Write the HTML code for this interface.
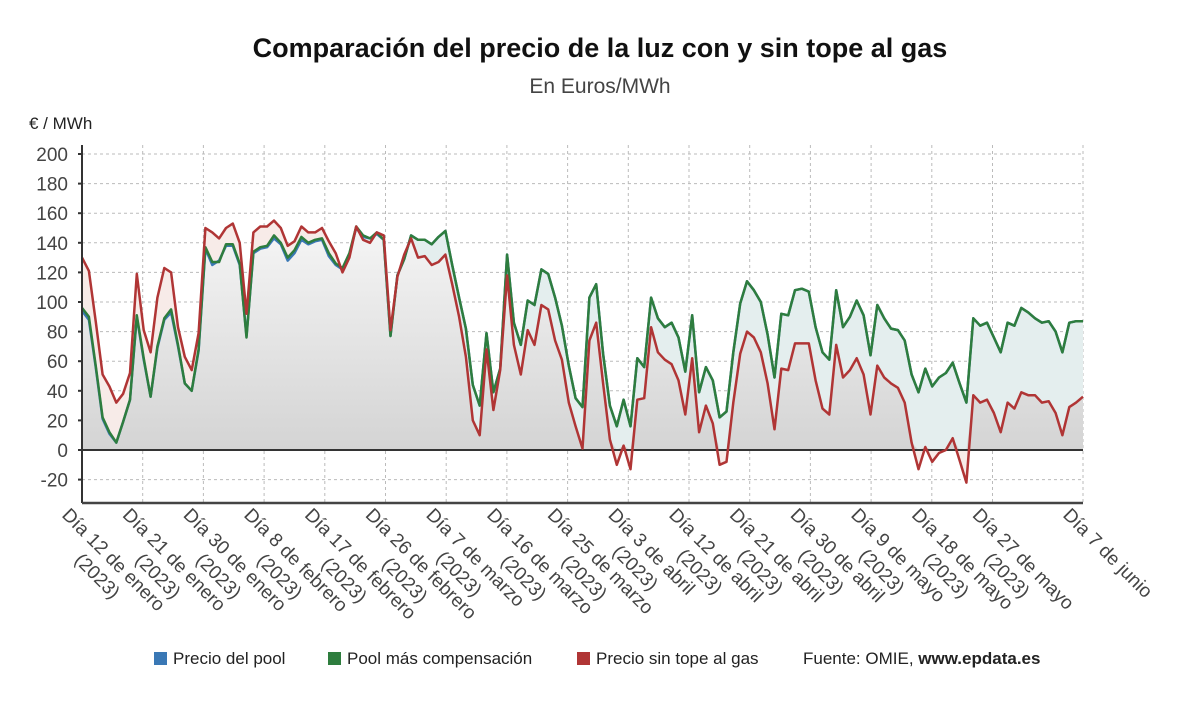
<!DOCTYPE html>
<html><head><meta charset="utf-8"><style>
body{margin:0;background:#fff;}
svg{display:block;font-family:"Liberation Sans","DejaVu Sans",sans-serif;}
</style></head><body>
<svg id="chart" width="1200" height="705" viewBox="0 0 1200 705">
<defs>
<linearGradient id="greyg" x1="0" y1="0" x2="0" y2="1"><stop offset="0" stop-color="#f5f5f5"/><stop offset="1" stop-color="#d4d4d4"/></linearGradient>
</defs>
<text x="600" y="57" text-anchor="middle" font-size="27" font-weight="bold" fill="#111">Comparación del precio de la luz con y sin tope al gas</text>
<text x="600" y="93" text-anchor="middle" font-size="21" fill="#444">En Euros/MWh</text>
<text x="29" y="129" font-size="17" fill="#222">€ / MWh</text>
<g id="grid"></g>
<g id="areas"></g>
<g id="lines"></g>
<g id="axes"></g>
<g id="xlabels"></g>
<g id="legend" font-size="17" fill="#222">
<rect x="154" y="652" width="13" height="13" fill="#3a78b5"/>
<text x="173" y="664">Precio del pool</text>
<rect x="328" y="652" width="13" height="13" fill="#2e7d3e"/>
<text x="347" y="664">Pool más compensación</text>
<rect x="577" y="652" width="13" height="13" fill="#b03535"/>
<text x="596" y="664">Precio sin tope al gas</text>
<text x="803" y="664">Fuente: OMIE, <tspan font-weight="bold">www.epdata.es</tspan></text>
</g>
</svg>
<script>
const green = [96,90,57,22,12,5,19,34,91,62,36,70,89,95,71,45,40,68,137,127,127,139,139,126,76,134,137,138,145,140,130,135,144,140,142,143,133,126,123,133,151,145,143,147,142,77,118,129,145,142,142,139,144,148,125,103,82,44,30,79,39,55,132,86,71,101,98,122,119,103,84,57,35,29,
103,112,65,30,16,34,16,62,56,103,89,83,86,76,53,91,39,56,47,22,26,66,99,114,108,100,78,49,92,91,108,109,107,83,66,61,108,83,90,101,91,64,98,89,82,81,74,51,39,55,43,49,52,59,45,32,89,84,86,76,66,86,84,96,93,89,86,87,80,66,86,87,87];
const blue = [94,88,56,21,11,5,19,34,90,61,36,69,88,93,70,45,40,67,136,125,128,138,138,125,77,133,136,137,143,139,128,133,142,139,141,142,131,125,122,132,150,144,143,146,142,77,118,129,145,142,142,139,144,148,125,103,82,44,30,79,39,55,132,86,71,101,98,122,119,103,84,57,35,29,
103,112,65,30,16,34,16,62,56,103,89,83,86,76,53,91,39,56,47,22,26,66,99,114,108,100,78,49,92,91,108,109,107,83,66,61,108,83,90,101,91,64,98,89,82,81,74,51,39,55,43,49,52,59,45,32,89,84,86,76,66,86,84,96,93,89,86,87,80,66,86,87,87];
const red = [130,121,87,51,43,32,38,52,119,81,66,103,123,120,83,63,54,79,150,147,143,150,153,140,92,147,151,151,155,150,138,141,151,147,147,150,141,133,120,130,151,142,140,147,145,81,117,132,143,130,131,125,127,132,112,90,63,20,10,68,27,54,118,71,51,81,71,98,95,74,61,32,16,1,
74,86,45,7,-10,3,-13,34,35,83,66,61,58,47,24,62,12,30,18,-10,-8,32,65,80,76,66,45,14,55,54,72,72,72,47,28,24,
71,49,54,62,51,24,57,49,45,42,32,5,-13,2,-8,-2,0,8,-7,-22,37,32,34,25,12,32,28,39,37,37,32,33,25,10,29,32,36];
const yTicks = [-20,0,20,40,60,80,100,120,140,160,180,200];
const xLabels = ["Día 12 de enero","Día 21 de enero","Día 30 de enero","Día 8 de febrero","Día 17 de febrero","Día 26 de febrero","Día 7 de marzo","Día 16 de marzo","Día 25 de marzo","Día 3 de abril","Día 12 de abril","Día 21 de abril","Día 30 de abril","Día 9 de mayo","Día 18 de mayo","Día 27 de mayo","Día 7 de junio"];
const xLabelYear = ["(2023)","(2023)","(2023)","(2023)","(2023)","(2023)","(2023)","(2023)","(2023)","(2023)","(2023)","(2023)","(2023)","(2023)","(2023)","(2023)",""];

const NS="http://www.w3.org/2000/svg";
const X0=82,X1=1083,YTOP=145,YBOT=503;
const n=green.length;
function xs(i){return X0+i*(X1-X0)/(n-1);}
function ys(v){return 450-v*1.48;}
function mk(tag,attrs,parent){const e=document.createElementNS(NS,tag);for(const k in attrs)e.setAttribute(k,attrs[k]);parent.appendChild(e);return e;}
const grid=document.getElementById('grid'),areas=document.getElementById('areas'),lines=document.getElementById('lines'),axes=document.getElementById('axes'),xl=document.getElementById('xlabels');

yTicks.forEach(t=>{
  const y=ys(t);
  const g=mk('line',{x1:X0,x2:X1,y1:y,y2:y,stroke:'#bbb','stroke-width':1,'stroke-dasharray':'3,3'},grid);
  
  
  const tk=mk('line',{x1:X0-4,x2:X0,y1:y,y2:y,stroke:'#333','stroke-width':2},axes);
  
  
  const tx=mk('text',{x:68,y:y+7,'text-anchor':'end','font-size':19,fill:'#444'},axes);
  tx.textContent=t;
  
  
});
const labelStep=60.7;
xLabels.forEach((lab,k)=>{
  const x = k<xLabels.length-1 ? X0+k*labelStep : X1;
  const g=mk('line',{x1:x,x2:x,y1:YTOP,y2:YBOT,stroke:'#bbb','stroke-width':1,'stroke-dasharray':'3,3'},grid);
  
  
  const grp=mk('g',{transform:`translate(${x-12},${507}) rotate(45)`,'font-size':19,fill:'#444'},xl);
  
  
  const t1=mk('text',{x:0,y:0,'dominant-baseline':'hanging'},grp);
  t1.textContent=lab;
  if(xLabelYear[k]){
    const w=t1.getComputedTextLength();
    const t2=mk('text',{x:w/2,y:23,'text-anchor':'middle','dominant-baseline':'hanging'},grp);
    t2.textContent=xLabelYear[k];
  }
});

function areaPath(arr){
  let d=`M${xs(0)},${ys(0)}`;
  arr.forEach((v,i)=>{d+=`L${xs(i).toFixed(1)},${ys(v).toFixed(1)}`;});
  d+=`L${xs(arr.length-1)},${ys(0)}Z`;return d;
}
function linePath(arr){return arr.map((v,i)=>(i?'L':'M')+xs(i).toFixed(1)+','+ys(v).toFixed(1)).join('');}
const minArr=green.map((g,i)=>Math.min(g,red[i]));
const a1=mk('path',{d:areaPath(red),fill:'#f7ebe8'},areas);


const a2=mk('path',{d:areaPath(green),fill:'#e4eeee'},areas);


const a3=mk('path',{d:areaPath(minArr.map(v=>Math.max(v,0))),fill:'url(#greyg)'},areas);



const zl=mk('line',{x1:X0,x2:X1,y1:ys(0),y2:ys(0),stroke:'#333','stroke-width':2},lines);


const lb=mk('path',{d:linePath(blue),fill:'none',stroke:'#3a78b5','stroke-width':2.5,'stroke-linejoin':'round'},lines);


const lg=mk('path',{d:linePath(green),fill:'none',stroke:'#2e7d3e','stroke-width':2.5,'stroke-linejoin':'round'},lines);


const lr=mk('path',{d:linePath(red),fill:'none',stroke:'#b03535','stroke-width':2.5,'stroke-linejoin':'round'},lines);



const ya=mk('line',{x1:X0,x2:X0,y1:YTOP,y2:YBOT,stroke:'#333','stroke-width':2},axes);


const xa=mk('line',{x1:X0,x2:X1,y1:YBOT,y2:YBOT,stroke:'#444','stroke-width':2.5},axes);


</script>
</body></html>
